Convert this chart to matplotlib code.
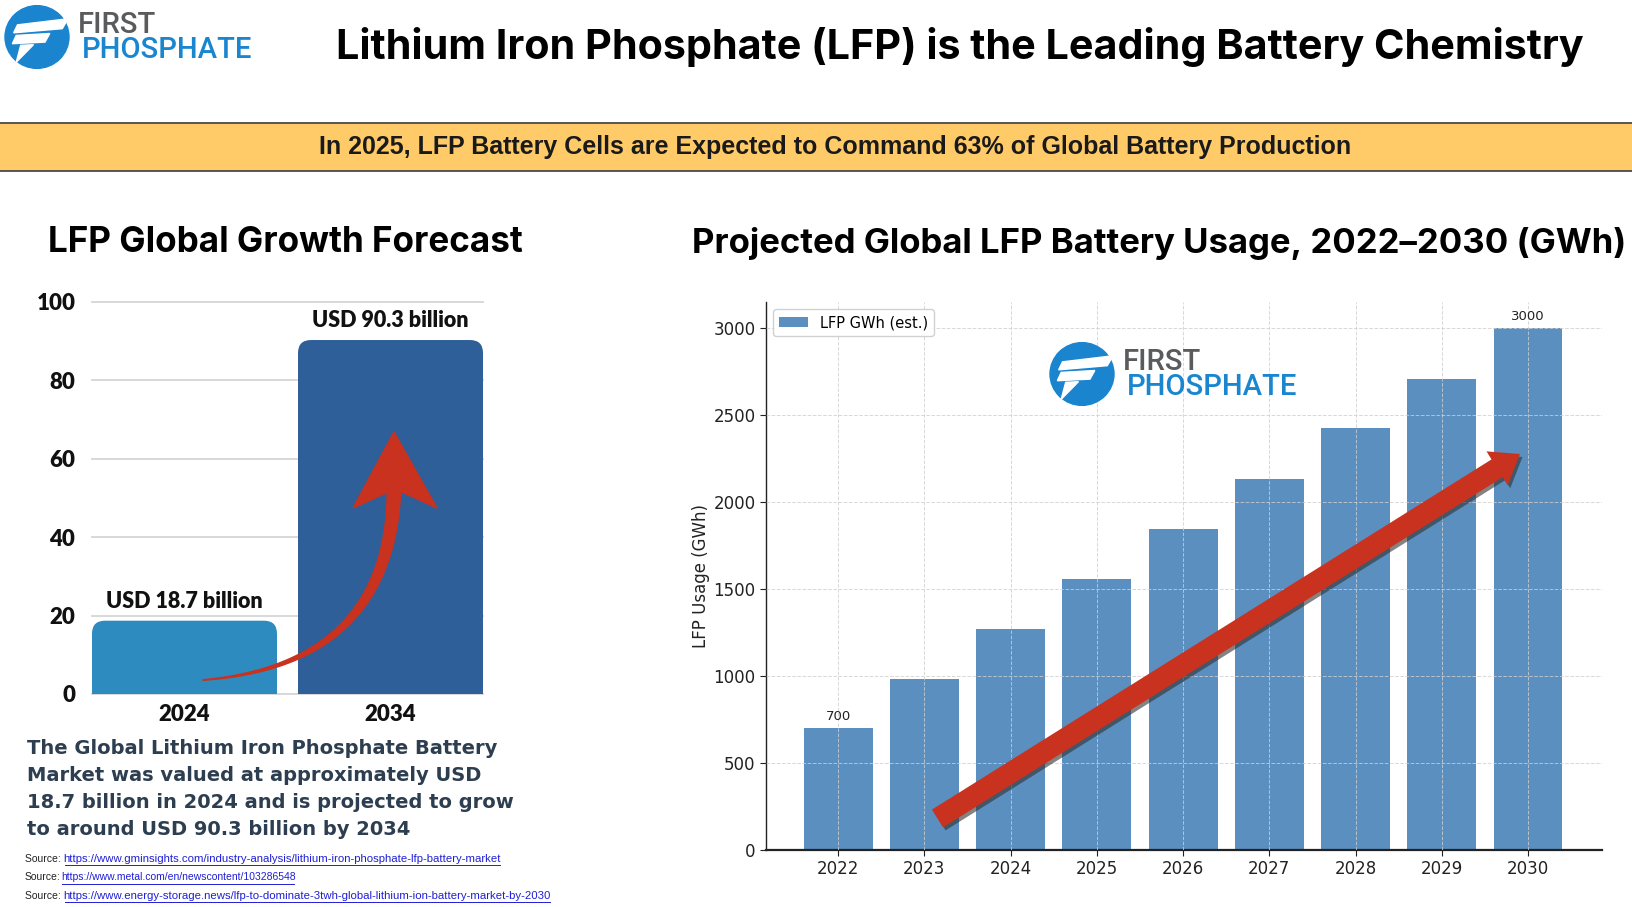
import matplotlib
matplotlib.use('Agg')
import matplotlib.pyplot as plt
import numpy as np
from matplotlib.patches import Ellipse, Polygon, FancyBboxPatch, FancyArrow

# ---------------- data ----------------
growth_years = ['2024', '2034']
growth_values = [18.7, 90.3]
growth_labels = ['USD 18.7 billion', 'USD 90.3 billion']
growth_colors = ['#2E8BC0', '#2F5F98']
growth_yticks = [0, 20, 40, 60, 80, 100]

usage_years = ['2022', '2023', '2024', '2025', '2026', '2027', '2028', '2029', '2030']
usage_gwh = [700, 985, 1270, 1560, 1845, 2135, 2425, 2710, 3000]
usage_labelled = [0, 8]          # bars carrying a value label
usage_yticks = [0, 500, 1000, 1500, 2000, 2500, 3000]

title = 'Lithium Iron Phosphate (LFP) is the Leading Battery Chemistry'
banner = 'In 2025, LFP Battery Cells are Expected to Command 63% of Global Battery Production'
left_title = 'LFP Global Growth Forecast'
right_title = 'Projected Global LFP Battery Usage, 2022\u20132030 (GWh)'
paragraph = ['The Global Lithium Iron Phosphate Battery',
             'Market was valued at approximately USD',
             '18.7 billion in 2024 and is projected to grow',
             'to around USD 90.3 billion by 2034']
sources = [('Source: ', 'https://www.gminsights.com/industry-analysis/lithium-iron-phosphate-lfp-battery-market'),
           ('Source:', 'https://www.metal.com/en/newscontent/103286548'),
           ('Source: ', 'https://www.energy-storage.news/lfp-to-dominate-3twh-global-lithium-ion-battery-market-by-2030')]

# ---------------- figure ----------------
W, H = 1632, 907
fig = plt.figure(figsize=(W / 100, H / 100), dpi=100)
fig.patch.set_facecolor('white')
renderer = fig.canvas.get_renderer()


def px_axes(l, t, r, b, **kw):
    return fig.add_axes([l / W, 1 - b / H, (r - l) / W, (b - t) / H], **kw)


ov = fig.add_axes([0, 0, 1, 1], zorder=10)
ov.set_xlim(0, W)
ov.set_ylim(H, 0)
ov.axis('off')
ov.patch.set_alpha(0)


def put(x, y, s, width=None, ha='left', va='center', **kw):
    t = ov.text(x, y, s, ha=ha, va=va, **kw)
    if width:
        bb = t.get_window_extent(renderer)
        t.set_fontsize(t.get_fontsize() * width / bb.width)
    return t


def logo(cx, cy, r=32):
    ov.add_patch(Ellipse((cx, cy), 2 * r, 2 * r * 0.98, color='#1A84CF', zorder=1))
    shapes = [[(-0.61, -0.38), (0.97, -0.57), (0.79, -0.26), (-0.73, -0.13)],
              [(-0.65, -0.05), (0.40, -0.11), (0.25, 0.16), (-0.77, 0.21)],
              [(-0.51, 0.26), (-0.11, 0.24), (-0.65, 0.79)]]
    for s in shapes:
        ov.add_patch(Polygon([(cx + a * r, cy + b * r) for a, b in s], closed=True,
                             color='white', zorder=2))
    put(cx + 41, cy - 4, 'FIRST', width=78, va='baseline', color='#5A5B5D',
        family=['Roboto', 'DejaVu Sans'], fontsize=18, fontweight='medium')
    put(cx + 45, cy + 21, 'PHOSPHATE', width=170, va='baseline', color='#1A86CF',
        family=['Roboto', 'DejaVu Sans'], fontsize=20, fontweight='medium')


# ---------------- header ----------------
logo(37, 37)
put(960, 47, title, width=1249, ha='center', fontsize=30, fontweight='bold',
    family=['Inter', 'DejaVu Sans'], color='black')

ov.add_patch(plt.Rectangle((0, 123), W, 48, facecolor='#FFCB69', edgecolor='none', zorder=1))
ov.plot([0, W], [123, 123], color='#4a4a4a', lw=1.3)
ov.plot([0, W], [171, 171], color='#4a4a4a', lw=1.3)
put(835, 147, banner, width=1036, ha='center', fontsize=15, fontweight='bold',
    family=['Liberation Sans', 'DejaVu Sans'], color='#1a1a1a')

put(48, 243, left_title, width=476, fontsize=24, fontweight='bold',
    family=['Inter', 'DejaVu Sans'], color='black')
put(692, 243, right_title, width=937, fontsize=24, fontweight='bold',
    family=['Inter', 'DejaVu Sans'], color='black')

# ---------------- left chart ----------------
axL = px_axes(92, 302, 483, 694)
bw = 0.898
axL.set_xlim(-0.449, 1.449)
axL.set_ylim(0, 100)
axL.set_yticks(growth_yticks)
axL.grid(axis='y', color='#D5D5D5', lw=1.3)
for gl in axL.get_ygridlines():
    gl.set_clip_on(False)
axL.set_axisbelow(True)
for sp in axL.spines.values():
    sp.set_visible(False)
axL.tick_params(length=0, labelsize=16, pad=12)
axL.tick_params(axis='x', pad=7)
xpp = (1.449 + 0.449) / (483 - 92)
ypp = 100 / (694 - 302)
rad = 13
xs = np.arange(len(growth_values))
for i, (v, c) in enumerate(zip(growth_values, growth_colors)):
    axL.bar(xs[i], v - rad * ypp, width=bw, color=c, zorder=2)
    axL.add_patch(FancyBboxPatch((xs[i] - bw / 2, 0), bw, v,
                                 boxstyle=f'round,pad=0,rounding_size={rad * xpp}',
                                 mutation_aspect=ypp / xpp, facecolor=c,
                                 edgecolor='none', zorder=2))
axL.set_xticks(xs)
axL.set_xticklabels(growth_years)
for lab in axL.get_xticklabels() + axL.get_yticklabels():
    lab.set_family(['Lato', 'DejaVu Sans'])
    lab.set_fontweight('heavy')
    lab.set_color('#111111')
labs = []
for i, (v, s) in enumerate(zip(growth_values, growth_labels)):
    labs.append(axL.annotate(s, (xs[i], v), xytext=(0, 14), textcoords='offset points',
                             ha='center', va='center', fontsize=16, fontweight='heavy',
                             family=['Lato', 'DejaVu Sans'], color='#111111'))
bb = labs[0].get_window_extent(renderer)
for l in labs:
    l.set_fontsize(16 * 157 / bb.width)

# curved arrow (decoration)
P0 = np.array([203, 680.]); P1 = np.array([390, 665.]); P2 = np.array([394, 490.])
t = np.linspace(0, 1, 80)[:, None]
B = (1 - t) ** 2 * P0 + 2 * (1 - t) * t * P1 + t ** 2 * P2
D = 2 * (1 - t) * (P1 - P0) + 2 * t * (P2 - P1)
Nrm = np.hstack([-D[:, 1:2], D[:, 0:1]]) / np.linalg.norm(D, axis=1)[:, None]
half = (0.6 + 13 * t ** 1.1) / 2
shaft = np.vstack([B + Nrm * half, (B - Nrm * half)[::-1]])
ov.add_patch(Polygon(shaft, closed=True, color='#C8321E', zorder=3))
ov.add_patch(Polygon([(394, 432), (353, 508), (395, 489), (437, 508)], closed=True,
                     color='#C8321E', zorder=3))

# paragraph
para = []
for k, line in enumerate(paragraph):
    para.append(put(27, 748 + k * 27.3, line, fontsize=13, fontweight='bold',
                    family=['DejaVu Sans'], color='#2C3E50'))
bb = para[0].get_window_extent(renderer)
for p in para:
    p.set_fontsize(13 * 468 / bb.width)

# sources
src_widths = [477, None, 526]
for k, (pre, link) in enumerate(sources):
    y = 859 + k * 18.5
    t1 = put(25, y, pre, fontsize=7.5, family=['Liberation Sans', 'DejaVu Sans'], color='#222222')
    b1 = t1.get_window_extent(renderer)
    x2 = b1.x1
    t2 = put(x2, y, link, fontsize=7.5, family=['Liberation Sans', 'DejaVu Sans'], color='#1F1FD6')
    b2 = t2.get_window_extent(renderer)
    if src_widths[k]:
        f = (src_widths[k] - b1.width) / b2.width
        t2.set_fontsize(7.5 * f)
        b2 = t2.get_window_extent(renderer)
    ov.plot([b2.x0 + 1, b2.x1 - 1], [y + 6, y + 6], color='#1F1FD6', lw=0.7)

# ---------------- right chart ----------------
axR = px_axes(766, 302, 1602, 850)
ux = np.arange(len(usage_gwh))
axR.bar(ux, usage_gwh, width=0.8, color='#5A8FBF', label='LFP GWh (est.)', zorder=2)
axR.set_xlim(-0.835, 8.858)
axR.set_ylim(0, 3150)
axR.set_xticks(ux)
axR.set_xticklabels(usage_years)
axR.set_yticks(usage_yticks)
axR.grid(True, linestyle='--', color='#CFCFCF', lw=0.7, zorder=0)
axR.set_axisbelow(False)
for gl in axR.get_xgridlines() + axR.get_ygridlines():
    gl.set_zorder(2.5)
    gl.set_alpha(0.8)
axR.spines['top'].set_visible(False)
axR.spines['right'].set_visible(False)
axR.spines['left'].set_color('#222222')
axR.spines['left'].set_linewidth(1.0)
axR.spines['bottom'].set_color('#222222')
axR.spines['bottom'].set_linewidth(1.6)
axR.tick_params(labelsize=12, length=4, colors='#222222')
axR.set_ylabel('LFP Usage (GWh)', fontsize=12, color='#222222', va='center')
axR.yaxis.set_label_coords((701 - 766) / (1602 - 766), 0.5)
for i in usage_labelled:
    axR.annotate(str(usage_gwh[i]), (ux[i], usage_gwh[i]), xytext=(0, 4),
                 textcoords='offset points', ha='center', va='bottom', fontsize=9.5,
                 color='#222222', zorder=4)
leg = axR.legend(loc='upper left', fontsize=10.5, frameon=True, fancybox=True,
                 borderaxespad=0.5, handlelength=2.0)
leg.get_frame().set_edgecolor('#CCCCCC')
leg.get_frame().set_alpha(0.9)

# logo watermark and straight arrow (decoration)
logo(1082, 374)
tail = (937.5, 818.5); tip = (1520., 454.)
for off, col, al, z in [((2.5, 3.0), '#303030', 0.6, 3), ((0, 0), '#C8321E', 1.0, 4)]:
    ov.add_patch(FancyArrow(tail[0] + off[0], tail[1] + off[1], tip[0] - tail[0], tip[1] - tail[1],
                            width=21, head_width=40, head_length=27, length_includes_head=True,
                            color=col, alpha=al, lw=0, zorder=z))

fig.savefig('out.png', dpi=100, facecolor='white')
